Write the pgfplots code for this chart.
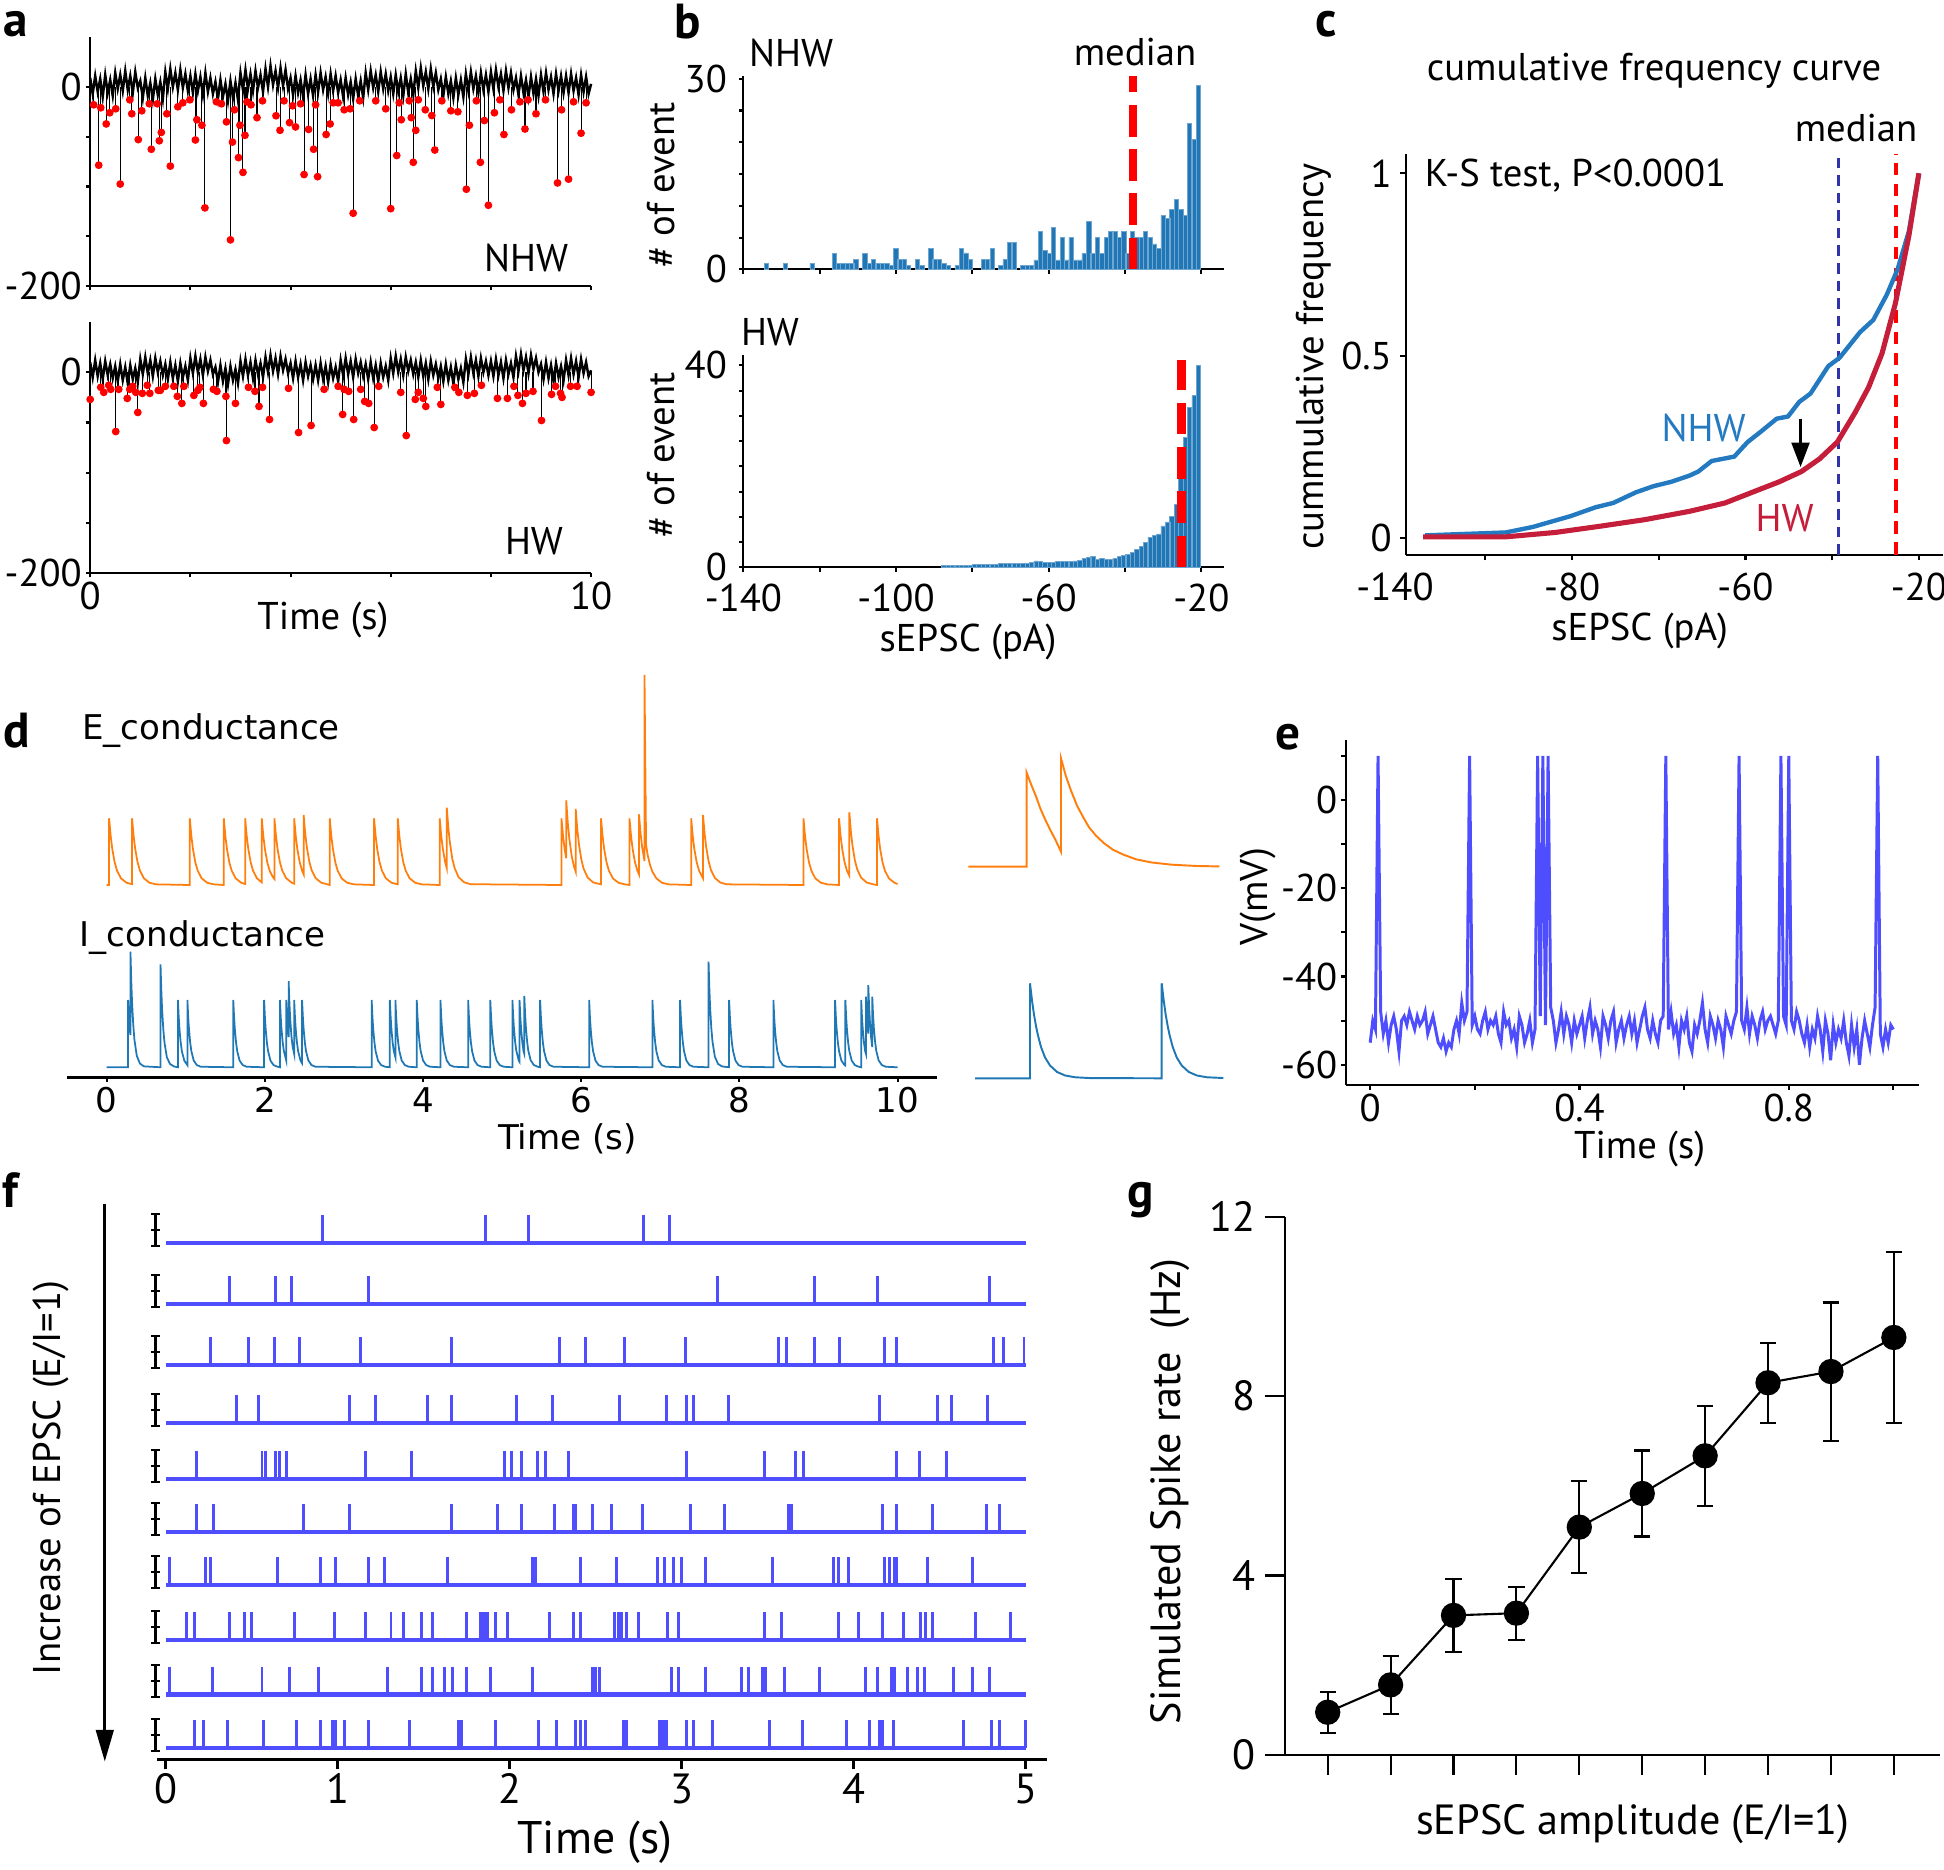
\documentclass[border=0pt]{standalone}
\usepackage{fontspec}
\setmainfont{PT Sans}
\newfontfamily\dvfont{DejaVu Sans}
\usepackage{pgfplots}
\usepackage{pgfplotstable}
\pgfplotsset{compat=1.18}
\usetikzlibrary{arrows.meta}

\definecolor{histblue}{RGB}{33,118,182}
\definecolor{nhwblue}{RGB}{36,122,192}
\definecolor{hwred}{RGB}{196,30,58}
\definecolor{egor}{RGB}{255,127,14}
\definecolor{igblue}{RGB}{31,119,180}
\definecolor{vblue}{RGB}{78,78,255}
\definecolor{medblue}{RGB}{50,50,170}

\newcommand\fs{\fontsize{11}{13}\selectfont}
\newcommand\fg{\fontsize{12}{14}\selectfont}
\newcommand\fd{\dvfont\fontsize{9.7}{11}\selectfont}
\newcommand\fl{\fontsize{14}{16}\selectfont\bfseries}

\pgfplotsset{
  base/.style={scale only axis, clip=false, anchor=south west,
    axis x line*=bottom, axis y line*=left,
    axis line style={line width=0.6pt, black},
    tick style={line width=0.6pt, black},
    tick align=outside, major tick length=1.2pt,
    tick label style={font=\fs, inner sep=1pt},
    /pgf/number format/assume math mode=true},
  bare/.style={scale only axis, clip=false, anchor=south west, hide axis},
  bars/.style={ybar, bar width=1.15, bar shift=0pt, fill=histblue,
    draw=histblue!65!white, line width=0.2pt},
  spk/.style={vblue, only marks, mark=|, mark size=3.97pt,
    mark options={line width=0.85pt}},
  row/.style={vblue, line width=1.2pt},
  scb/.style={black, line width=0.6pt, mark=-, mark size=1.2pt},
}

% event amplitudes (pA) of the two example traces
\pgfplotstableread{
t a
0.07 -18
0.17 -78.6
0.21 -21
0.32 -37.2
0.39 -26
0.51 -22
0.60 -97.5
0.79 -13
0.83 -27
0.96 -52.9
1.03 -24
1.18 -17
1.22 -62.6
1.34 -17
1.38 -54.1
1.42 -45.7
1.53 -27
1.60 -79.5
1.75 -20
1.85 -16
1.99 -13
2.10 -53.3
2.13 -33
2.23 -38.5
2.29 -121.4
2.52 -15
2.62 -17
2.72 -35.1
2.80 -153.5
2.84 -55.4
2.88 -23
2.96 -71
2.99 -38.5
3.05 -85.8
3.09 -48.6
3.13 -15
3.21 -18
3.33 -30.9
3.44 -14
3.71 -29
3.79 -43.6
3.87 -14
3.98 -35.9
4.04 -19
4.10 -40.2
4.20 -17
4.27 -88
4.36 -42.7
4.46 -62.6
4.50 -18
4.54 -90.1
4.71 -47.8
4.79 -37.2
4.85 -16
4.95 -16
5.07 -23
5.19 -22
5.25 -126.8
5.38 -14
5.70 -14
5.90 -22
6.00 -122.2
6.12 -68.9
6.17 -16
6.21 -33
6.37 -14
6.41 -30.9
6.45 -75.7
6.50 -43.6
6.55 -13
6.69 -23
6.82 -28.8
6.88 -63.4
7.02 -14
7.20 -24
7.34 -25
7.51 -102.7
7.57 -38.5
7.71 -14
7.79 -75.7
7.87 -33.8
7.95 -118.8
8.07 -26
8.18 -13
8.26 -47.8
8.41 -23
8.58 -15
8.68 -42.3
8.74 -13
8.90 -27
9.09 -13
9.33 -96.4
9.41 -23
9.55 -92.6
9.65 -15
9.80 -46.5
9.90 -16
}\evNHW

\pgfplotstableread{
t a
0.00 -27
0.21 -15
0.27 -20
0.37 -13
0.41 -17
0.51 -59
0.57 -17
0.74 -26
0.79 -17
0.85 -14
0.91 -20
0.95 -40
1.04 -21
1.14 -13
1.19 -21
1.36 -18
1.40 -18
1.50 -14
1.67 -14
1.74 -24
1.83 -31
1.87 -14
2.07 -23
2.15 -18
2.19 -15
2.26 -31
2.46 -17
2.53 -19
2.71 -24
2.72 -68
2.90 -31
3.16 -15
3.29 -19
3.37 -34
3.44 -15
3.58 -47
3.96 -16
4.16 -60
4.41 -53
4.67 -17
4.95 -14
5.04 -42
5.07 -17
5.16 -19
5.26 -47
5.40 -17
5.48 -29
5.56 -31
5.67 -55
5.76 -14
6.20 -20
6.31 -63
6.49 -27
6.55 -20
6.65 -26
6.70 -34
6.93 -15
7.00 -32
7.28 -15
7.36 -20
7.53 -23
7.67 -21
7.81 -13
8.13 -26
8.33 -26
8.46 -14
8.54 -23
8.63 -31
8.70 -21
8.84 -19
9.01 -48
9.21 -22
9.29 -14
9.39 -21
9.42 -25
9.59 -14
9.72 -14
10.0 -20
}\evHW

% amplitude histograms (bin centre, count)
\pgfplotstableread{
x n
-134.0 1
-129.0 1
-122.0 1
-116.2 2.5
-115.1 1
-113.9 1
-112.8 1
-111.6 1
-110.5 1.6
-108.2 2.5
-107.0 1
-105.9 1.6
-104.7 1
-103.6 1
-102.4 1
-101.3 0.6
-100.1 3.3
-99.0 1.6
-97.8 1.6
-96.7 0.6
-94.4 1.6
-93.2 0.6
-90.9 3.3
-89.8 1.6
-88.6 1.6
-87.5 1
-86.3 0.6
-84.0 0.6
-82.9 3.3
-81.7 2.6
-80.6 1.6
-77.1 1.6
-76.0 1.6
-74.8 3.3
-72.5 0.6
-71.4 1.6
-70.2 4.2
-69.1 4.2
-66.8 0.6
-65.6 0.6
-64.5 0.6
-63.3 1.5
-62.2 6
-61.0 3
-59.9 2.5
-58.7 6.6
-57.6 1.5
-56.4 5
-55.3 1.5
-54.1 5
-53.0 1.5
-51.8 1.5
-50.7 2.5
-49.5 7.6
-48.4 2.5
-47.2 5
-46.1 2.5
-44.9 5
-43.8 6
-42.6 6
-41.5 5
-40.3 6
-39.2 2.5
-38.0 6
-36.9 5
-35.7 5
-34.6 6
-33.4 5
-32.3 4
-31.1 3.3
-30.0 8.5
-28.8 8
-27.7 9.5
-26.5 11
-25.4 9.5
-24.2 8.5
-23.1 23
-21.9 20.5
-20.8 29
}\histNHW

\pgfplotstableread{
x n
-87.5 0.3
-86.3 0.3
-85.2 0.35
-84.0 0.4
-82.9 0.4
-81.7 0.4
-80.6 0.45
-79.4 0.5
-78.3 0.55
-77.1 0.6
-76.0 0.6
-74.8 0.6
-73.7 0.6
-72.5 0.7
-71.4 0.7
-70.2 0.7
-69.1 0.75
-67.9 0.75
-66.8 0.8
-65.6 0.8
-64.5 0.9
-63.3 1.25
-62.2 1.1
-61.0 1.0
-59.9 0.9
-58.7 0.9
-57.6 1.1
-56.4 1.1
-55.3 1.15
-54.1 1.1
-53.0 1.25
-51.8 1.4
-50.7 1.7
-49.5 1.9
-48.4 2.2
-47.2 1.5
-46.1 1.7
-44.9 1.5
-43.8 1.6
-42.6 1.8
-41.5 2.2
-40.3 2.3
-39.2 2.5
-38.0 3
-36.9 3.6
-35.7 4.2
-34.6 5
-33.4 6
-32.3 6.3
-31.1 6.6
-30.0 8.2
-28.8 9
-27.7 10
-26.5 12.5
-25.4 20
-24.2 25.7
-23.1 31.7
-21.9 34
-20.8 40
}\histHW

% cumulative frequency curves
\pgfplotstableread{
x f
-133.9 0.007
-115.3 0.015
-109.1 0.03
-100.3 0.06
-94.6 0.084
-90.5 0.096
-85.3 0.125
-81.2 0.142
-77.1 0.154
-72.9 0.171
-70.9 0.182
-67.8 0.211
-62.6 0.223
-59.5 0.263
-56.4 0.292
-52.8 0.327
-50.2 0.333
-47.6 0.373
-45.0 0.396
-40.9 0.471
-38.3 0.494
-33.6 0.564
-30.5 0.598
-27.4 0.667
-24.9 0.737
-22.3 0.841
-20.0 1.0
}\cumNHW

\pgfplotstableread{
x f
-134.4 0.003
-115.3 0.003
-103.9 0.015
-93.6 0.032
-83.3 0.05
-72.9 0.073
-64.7 0.096
-57.4 0.13
-52.2 0.154
-47.1 0.182
-42.9 0.217
-38.8 0.263
-34.7 0.344
-31.6 0.413
-28.5 0.506
-25.4 0.644
-22.3 0.829
-20.0 1.0
}\cumHW

\pgfplotstableread{
x r e
1 0.95 0.46
2 1.56 0.65
3 3.11 0.82
4 3.16 0.59
5 5.08 1.02
6 5.83 0.96
7 6.67 1.12
8 8.30 0.89
9 8.55 1.54
10 9.31 1.90
}\rate

\begin{document}
\begin{tikzpicture}
\useasboundingbox (0,0) rectangle (194.4mm,-187mm);

% ===================== a =====================
\begin{axis}[base, at={(9.02mm,-28.62mm)}, width=50.09mm, height=24.92mm,
  xmin=0, xmax=10, ymin=-200, ymax=50,
  xtick={0,2,4,6,8,10}, xticklabels={},
  ytick={-200,-150,-100,-50,0}, yticklabels={-200,,,,0}]
\addplot[black, line width=0.7pt] table[row sep=\\, header=false, x expr=\coordindex*0.05, y index=0] {
9\\-7\\11\\-5\\8\\-10\\12\\-6\\7\\-9\\14\\-2\\12\\-4\\16\\-3\\11\\-6\\15\\-1\\
6\\-11\\9\\-9\\4\\-13\\8\\-8\\5\\-12\\15\\-2\\18\\0\\14\\-3\\17\\-1\\13\\-4\\
11\\-6\\13\\-4\\10\\-8\\14\\-5\\9\\-7\\5\\-12\\7\\-10\\3\\-14\\6\\-11\\4\\-13\\
14\\-3\\17\\-2\\13\\-4\\16\\-1\\12\\-5\\18\\0\\21\\2\\16\\-1\\19\\1\\17\\-2\\
9\\-8\\11\\-6\\7\\-10\\12\\-7\\8\\-9\\12\\-5\\14\\-3\\10\\-7\\13\\-4\\11\\-6\\
7\\-10\\9\\-8\\5\\-12\\8\\-9\\6\\-11\\14\\-3\\16\\-1\\12\\-5\\15\\-2\\13\\-4\\
10\\-7\\12\\-5\\9\\-9\\13\\-6\\8\\-8\\16\\-1\\19\\1\\15\\-2\\18\\0\\14\\-3\\
8\\-9\\10\\-7\\6\\-11\\9\\-8\\7\\-10\\13\\-4\\15\\-2\\11\\-6\\14\\-3\\12\\-5\\
15\\-2\\17\\0\\13\\-4\\16\\-1\\14\\-3\\9\\-8\\11\\-6\\7\\-10\\10\\-7\\8\\-9\\
12\\-5\\14\\-3\\10\\-7\\13\\-4\\11\\-6\\11\\-6\\13\\-4\\9\\-8\\12\\-5\\10\\-7\\3\\
};
\addplot[ycomb, black, line width=0.3pt] table {\evNHW};
\addplot[only marks, mark=*, mark size=0.9pt, red] table {\evNHW};
\end{axis}

\begin{axis}[base, at={(9.02mm,-57.32mm)}, width=50.09mm, height=25.12mm,
  xmin=0, xmax=10, ymin=-200, ymax=50,
  xtick={0,2,4,6,8,10}, xticklabels={0,,,,,10},
  ytick={-200,-150,-100,-50,0}, yticklabels={-200,,,,0}]
\addplot[black, line width=0.7pt] table[row sep=\\, header=false, x expr=\coordindex*0.05, y index=0] {
10\\-5\\12\\-4\\9\\-7\\11\\-3\\8\\-6\\6\\-9\\8\\-8\\5\\-11\\7\\-7\\4\\-10\\
13\\-2\\15\\-1\\12\\-4\\14\\0\\11\\-3\\8\\-7\\10\\-6\\7\\-9\\9\\-5\\6\\-8\\
14\\-1\\16\\0\\13\\-3\\15\\1\\12\\-2\\5\\-10\\7\\-9\\4\\-12\\6\\-8\\3\\-11\\
11\\-4\\13\\-3\\10\\-6\\12\\-2\\9\\-5\\15\\0\\17\\1\\14\\-2\\16\\2\\13\\-1\\
9\\-6\\11\\-5\\8\\-8\\10\\-4\\7\\-7\\7\\-8\\9\\-7\\6\\-10\\8\\-6\\5\\-9\\
12\\-3\\14\\-2\\11\\-5\\13\\-1\\10\\-4\\8\\-7\\10\\-6\\7\\-9\\9\\-5\\6\\-8\\
14\\-1\\16\\0\\13\\-3\\15\\1\\12\\-2\\10\\-5\\12\\-4\\9\\-7\\11\\-3\\8\\-6\\
6\\-9\\8\\-8\\5\\-11\\7\\-7\\4\\-10\\13\\-2\\15\\-1\\12\\-4\\14\\0\\11\\-3\\
11\\-4\\13\\-3\\10\\-6\\12\\-2\\9\\-5\\16\\1\\18\\2\\15\\-1\\17\\3\\14\\0\\
8\\-7\\10\\-6\\7\\-9\\9\\-5\\6\\-8\\12\\-3\\14\\-2\\11\\-5\\13\\-1\\10\\-4\\2\\
};
\addplot[ycomb, black, line width=0.3pt] table {\evHW};
\addplot[only marks, mark=*, mark size=0.9pt, red] table {\evHW};
\end{axis}

% ===================== b =====================
\begin{axis}[base, at={(74.34mm,-26.94mm)}, width=48.08mm, height=19.36mm,
  xmin=-140, xmax=-14, ymin=0, ymax=30.46,
  tick label style={inner sep=3.3pt},
  xtick={-140,-120,...,-20}, xticklabels={},
  ytick={0,5,...,30}, yticklabels={0,,,,,,30}]
\addplot[bars] table {\histNHW};
\addplot[red, line width=2.3pt, dash pattern=on 9pt off 3.6pt] coordinates {(-37.9,0) (-37.9,30.4)};
\end{axis}

\begin{axis}[base, at={(74.34mm,-56.73mm)}, width=48.08mm, height=21.25mm,
  xmin=-140, xmax=-14, ymin=0, ymax=42.1,
  tick label style={inner sep=3.3pt},
  xtick={-140,-120,...,-20}, xticklabels={-140,,-100,,-60,,-20},
  ytick={0,5,...,40}, yticklabels={0,,,,,,,,40}]
\addplot[bars] table {\histHW};
\addplot[red, line width=2.3pt, dash pattern=on 9pt off 3.6pt] coordinates {(-25.2,0) (-25.2,41.1)};
\end{axis}

% ===================== c =====================
\begin{axis}[base, at={(140.61mm,-55.47mm)}, width=53.66mm, height=40.11mm,
  xmin=-138.3, xmax=-14.5, ymin=-0.046, ymax=1.054,
  major tick length=1.6pt,
  xticklabel style={inner sep=3.5pt}, yticklabel style={inner sep=2.3pt},
  xtick={-120,-100,...,-20}, xticklabels={,-80,,-60,,-20},
  ytick={0,0.5,1}, yticklabels={0,0.5,1}]
\addplot[medblue, line width=1pt, dash pattern=on 3pt off 2pt] coordinates {(-38.5,-0.046) (-38.5,1.046)};
\addplot[red, line width=1.1pt, dash pattern=on 3.5pt off 2.5pt] coordinates {(-25.2,-0.046) (-25.2,1.054)};
\addplot[nhwblue, line width=1.25pt] table {\cumNHW};
\addplot[hwred, line width=1.45pt] table {\cumHW};
\draw[black, line width=1pt, -{Triangle[width=5pt,length=7pt]}] (axis cs:-47.3,0.327) -- (axis cs:-47.3,0.194);
\end{axis}

% ===================== d =====================
\begin{axis}[bare, at={(6.72mm,-89.5mm)}, width=86.99mm, height=23.01mm,
  xmin=-0.5, xmax=10.5, ymin=-0.15, ymax=3.3]
\addplot[egor, line width=0.5pt] coordinates {
(0,0) (0.03,0) (0.03,1) (0.05,0.735) (0.07,0.54) (0.10,0.34) (0.13,0.215) (0.18,0.1) (0.25,0.034) (0.32,0.012)
(0.32,1) (0.34,0.735) (0.36,0.54) (0.39,0.34) (0.42,0.215) (0.47,0.1) (0.54,0.034) (0.62,0.01) (1.05,0)
(1.05,1) (1.07,0.735) (1.09,0.54) (1.12,0.34) (1.15,0.215) (1.20,0.1) (1.27,0.034) (1.35,0.01) (1.48,0)
(1.48,1) (1.50,0.735) (1.52,0.54) (1.55,0.34) (1.58,0.215) (1.63,0.1) (1.70,0.034) (1.75,0.015)
(1.75,1) (1.77,0.735) (1.79,0.54) (1.82,0.34) (1.85,0.215) (1.90,0.1) (1.96,0.04)
(1.96,1) (1.98,0.735) (2.00,0.54) (2.03,0.34) (2.06,0.215) (2.10,0.12) (2.12,0.09)
(2.12,1) (2.14,0.735) (2.16,0.54) (2.19,0.34) (2.22,0.215) (2.27,0.1) (2.34,0.034) (2.37,0.02)
(2.37,1) (2.39,0.735) (2.41,0.54) (2.44,0.34) (2.47,0.215) (2.49,0.16)
(2.49,1.05) (2.51,0.77) (2.53,0.57) (2.56,0.36) (2.59,0.226) (2.64,0.105) (2.71,0.036) (2.79,0.01) (2.82,0)
(2.82,1) (2.84,0.735) (2.86,0.54) (2.89,0.34) (2.92,0.215) (2.97,0.1) (3.04,0.034) (3.12,0.01) (3.38,0)
(3.38,1) (3.40,0.735) (3.42,0.54) (3.45,0.34) (3.48,0.215) (3.53,0.1) (3.60,0.034) (3.68,0.01)
(3.68,1) (3.70,0.735) (3.72,0.54) (3.75,0.34) (3.78,0.215) (3.83,0.1) (3.90,0.034) (3.98,0.01) (4.21,0)
(4.21,1) (4.23,0.735) (4.25,0.54) (4.28,0.34) (4.30,0.25)
(4.30,1.16) (4.32,0.85) (4.34,0.63) (4.37,0.39) (4.40,0.25) (4.45,0.116) (4.52,0.04) (4.60,0.012) (5.75,0)
(5.75,1) (5.77,0.735) (5.79,0.54) (5.81,0.4)
(5.81,1.27) (5.83,0.93) (5.85,0.69) (5.88,0.43) (5.91,0.27) (5.93,0.2)
(5.93,1.14) (5.95,0.84) (5.97,0.62) (6.00,0.39) (6.03,0.245) (6.08,0.114) (6.15,0.039) (6.25,0.01)
(6.25,1) (6.27,0.735) (6.29,0.54) (6.32,0.34) (6.35,0.215) (6.40,0.1) (6.47,0.034) (6.55,0.01) (6.61,0)
(6.61,1) (6.63,0.735) (6.65,0.54) (6.68,0.34) (6.71,0.215) (6.73,0.16)
(6.73,1.06) (6.75,0.78) (6.77,0.57) (6.80,0.36)
(6.80,3.15) (6.82,0.6) (6.84,0.45) (6.87,0.3) (6.90,0.2) (6.95,0.1) (7.02,0.034) (7.10,0.01) (7.39,0)
(7.39,1) (7.41,0.735) (7.43,0.54) (7.46,0.34) (7.49,0.215) (7.54,0.1)
(7.54,1.05) (7.56,0.77) (7.58,0.57) (7.61,0.36) (7.64,0.226) (7.69,0.105) (7.76,0.036) (7.84,0.01) (8.81,0)
(8.81,1) (8.83,0.735) (8.85,0.54) (8.88,0.34) (8.91,0.215) (8.96,0.1) (9.03,0.034) (9.11,0.01) (9.26,0)
(9.26,1) (9.28,0.735) (9.30,0.54) (9.33,0.34) (9.36,0.215) (9.39,0.14)
(9.39,1.09) (9.41,0.8) (9.43,0.59) (9.46,0.37) (9.49,0.234) (9.54,0.109) (9.61,0.037) (9.69,0.011) (9.74,0)
(9.74,1) (9.76,0.735) (9.78,0.54) (9.81,0.34) (9.84,0.215) (9.89,0.1) (9.96,0.034) (10.0,0.015)
};
\end{axis}

\begin{axis}[base, axis y line=none, at={(6.72mm,-107.73mm)}, width=86.99mm, height=13.11mm,
  xmin=-0.5, xmax=10.5, ymin=-0.149, ymax=1.8,
  axis line style={line width=0.8pt}, major tick length=1.2pt,
  xtick={0,2,4,6,8,10}, xticklabels={0,2,4,6,8,10},
  tick label style={font=\fd, inner sep=1.5pt}]
\addplot[igblue, line width=0.5pt] coordinates {
(0,0) (0.27,0) (0.27,1) (0.28,0.75) (0.29,0.565) (0.30,0.48)
(0.30,1.72) (0.31,1.29) (0.32,0.97) (0.335,0.64) (0.35,0.41) (0.38,0.17) (0.42,0.055) (0.47,0.014) (0.68,0)
(0.68,1.53) (0.69,1.15) (0.70,0.86) (0.715,0.57) (0.73,0.37) (0.76,0.15) (0.80,0.05) (0.85,0.012) (0.90,0)
(0.90,1) (0.91,0.75) (0.92,0.565) (0.935,0.37) (0.95,0.24) (0.98,0.1) (1.02,0.032)
(1.02,1) (1.03,0.75) (1.04,0.565) (1.055,0.37) (1.07,0.24) (1.10,0.1) (1.14,0.032) (1.19,0.008) (1.60,0)
(1.60,1) (1.61,0.75) (1.62,0.565) (1.635,0.37) (1.65,0.24) (1.68,0.1) (1.72,0.032) (1.77,0.008) (1.99,0)
(1.99,1) (2.00,0.75) (2.01,0.565) (2.025,0.37) (2.04,0.24) (2.07,0.1) (2.11,0.032) (2.16,0.008) (2.19,0)
(2.19,1) (2.20,0.75) (2.21,0.565) (2.225,0.37) (2.24,0.24) (2.27,0.1)
(2.27,1) (2.28,0.75) (2.29,0.565) (2.30,0.45)
(2.30,1.28) (2.31,0.96) (2.32,0.72) (2.335,0.47) (2.35,0.31) (2.37,0.2)
(2.37,1) (2.38,0.75) (2.39,0.565) (2.405,0.37) (2.42,0.24) (2.45,0.1) (2.47,0.06)
(2.47,1) (2.48,0.75) (2.49,0.565) (2.505,0.37) (2.52,0.24) (2.55,0.1) (2.59,0.032) (2.64,0.008) (3.35,0)
(3.35,1) (3.36,0.75) (3.37,0.565) (3.385,0.37) (3.40,0.24) (3.43,0.1) (3.47,0.032) (3.52,0.008) (3.58,0)
(3.58,1) (3.59,0.75) (3.60,0.565) (3.615,0.37) (3.63,0.24) (3.65,0.15)
(3.65,1) (3.66,0.75) (3.67,0.565) (3.685,0.37) (3.70,0.24) (3.73,0.1) (3.77,0.032) (3.82,0.008) (3.92,0)
(3.92,1) (3.93,0.75) (3.94,0.565) (3.955,0.37) (3.97,0.24) (4.00,0.1) (4.04,0.032) (4.09,0.008) (4.22,0)
(4.22,1) (4.23,0.75) (4.24,0.565) (4.255,0.37) (4.27,0.24) (4.30,0.1) (4.34,0.032) (4.39,0.008) (4.57,0)
(4.57,1) (4.58,0.75) (4.59,0.565) (4.605,0.37) (4.62,0.24) (4.65,0.1) (4.69,0.032) (4.74,0.008) (4.85,0)
(4.85,1) (4.86,0.75) (4.87,0.565) (4.885,0.37) (4.90,0.24) (4.93,0.1) (4.97,0.032) (5.02,0.008) (5.13,0)
(5.13,1) (5.14,0.75) (5.15,0.565) (5.165,0.37) (5.18,0.24) (5.21,0.1) (5.22,0.08)
(5.22,1) (5.23,0.75) (5.24,0.565) (5.255,0.37) (5.27,0.24) (5.28,0.2)
(5.28,1.06) (5.29,0.8) (5.30,0.6) (5.315,0.39) (5.33,0.25) (5.36,0.106) (5.40,0.034) (5.45,0.008) (5.48,0)
(5.48,1) (5.49,0.75) (5.50,0.565) (5.515,0.37) (5.53,0.24) (5.56,0.1) (5.60,0.032) (5.65,0.008) (6.10,0)
(6.10,1) (6.11,0.75) (6.12,0.565) (6.135,0.37) (6.15,0.24) (6.18,0.1) (6.22,0.032) (6.27,0.008) (6.90,0)
(6.90,1) (6.91,0.75) (6.92,0.565) (6.935,0.37) (6.95,0.24) (6.98,0.1) (7.02,0.032) (7.07,0.008) (7.25,0)
(7.25,1) (7.26,0.75) (7.27,0.565) (7.285,0.37) (7.30,0.24) (7.33,0.1) (7.37,0.032) (7.42,0.008) (7.61,0)
(7.61,1.57) (7.62,1.18) (7.63,0.89) (7.645,0.58) (7.66,0.38) (7.69,0.157) (7.73,0.05) (7.78,0.013) (7.87,0)
(7.87,1) (7.88,0.75) (7.89,0.565) (7.905,0.37) (7.92,0.24) (7.95,0.1) (7.99,0.032) (8.04,0.008) (8.43,0)
(8.43,1) (8.44,0.75) (8.45,0.565) (8.465,0.37) (8.48,0.24) (8.51,0.1) (8.55,0.032) (8.60,0.008) (9.21,0)
(9.21,1) (9.22,0.75) (9.23,0.565) (9.245,0.37) (9.26,0.24) (9.29,0.1) (9.33,0.032) (9.34,0.025)
(9.34,1) (9.35,0.75) (9.36,0.565) (9.375,0.37) (9.39,0.24) (9.42,0.1) (9.46,0.032) (9.51,0.008) (9.54,0)
(9.54,1) (9.55,0.75) (9.56,0.565) (9.575,0.37) (9.59,0.24) (9.60,0.2)
(9.60,1.05) (9.61,0.79) (9.62,0.6) (9.63,0.5)
(9.63,1.22) (9.64,0.92) (9.65,0.69) (9.665,0.45) (9.68,0.3)
(9.68,1.05) (9.69,0.79) (9.70,0.59) (9.715,0.39) (9.73,0.25) (9.76,0.105) (9.80,0.034) (9.85,0.008) (10.0,0)
};
\end{axis}

% insets of d
\begin{axis}[bare, at={(96.83mm,-87.61mm)}, width=25.1mm, height=12.69mm,
  xmin=0, xmax=251, ymin=-0.1, ymax=1.25]
\addplot[egor, line width=0.55pt] coordinates {
(0,0) (58.4,0) (58.4,1) (63,0.87) (68,0.74) (72,0.62) (77,0.5) (82,0.39) (87,0.29) (92.7,0.16)
(92.7,1.153) (97.7,0.96) (102.7,0.81) (108.7,0.65) (114.7,0.53) (120.7,0.42) (127.7,0.33)
(135.7,0.25) (144.7,0.18) (154.7,0.13) (167.7,0.079) (182.7,0.046) (202.7,0.022) (227.7,0.008) (251,0.003)
};
\end{axis}
\begin{axis}[bare, at={(97.5mm,-108.78mm)}, width=24.83mm, height=11.4mm,
  xmin=0, xmax=248.3, ymin=-0.1, ymax=1.1]
\addplot[igblue, line width=0.55pt] coordinates {
(0,0) (55,0) (55,1) (57,0.82) (59,0.67) (61,0.55) (63,0.45) (66,0.33) (70,0.22) (75,0.135)
(82,0.067) (90,0.03) (100,0.011) (115,0.0025) (186.7,0) (186.7,1) (188.7,0.82) (190.7,0.67)
(192.7,0.55) (194.7,0.45) (197.7,0.33) (201.7,0.22) (206.7,0.135) (213.7,0.067) (221.7,0.03)
(231.7,0.011) (248.3,0.003)
};
\end{axis}

% ===================== e =====================
\begin{axis}[base, at={(134.64mm,-108.5mm)}, width=57.25mm, height=34.5mm,
  xmin=-0.0455, xmax=1.0487, ymin=-64.6, ymax=13.6,
  major tick length=1.4pt,
  xtick={0,0.2,0.4,0.6,0.8,1}, xticklabels={0,,0.4,,0.8,},
  ytick={-60,-50,-40,-30,-20,-10,0,10}, yticklabels={-60,,-40,,-20,,0,}]
\addplot[vblue, line width=0.85pt] table[row sep=\\, header=false, x expr=\coordindex*0.005, y index=0] {
-55\\-50\\-52\\10\\-48\\-53\\-50\\-55\\-51\\-49\\-52\\-57\\-50\\-49\\-51\\-48\\-50\\-52\\-49\\-51\\
-50\\-48\\-53\\-51\\-49\\-52\\-55\\-56\\-54\\-57\\-55\\-56\\-52\\-50\\-53\\-46\\-50\\-48\\10\\-51\\
-49\\-52\\-53\\-50\\-48\\-52\\-50\\-51\\-49\\-53\\-55\\-48\\-51\\-50\\-54\\-52\\-56\\-49\\-51\\-55\\
-53\\-50\\-55\\-52\\10\\-49\\10\\-51\\10\\-47\\-50\\-55\\-52\\-48\\-53\\-49\\-51\\-55\\-50\\-53\\
-51\\-49\\-54\\-50\\-47\\-53\\-50\\-52\\-56\\-49\\-51\\-54\\-50\\-48\\-55\\-52\\-50\\-54\\-51\\-49\\
-53\\-50\\-55\\-52\\-49\\-47\\-52\\-54\\-50\\-53\\-55\\-50\\-49\\10\\-52\\-48\\-53\\-51\\-56\\-50\\
-52\\-49\\-55\\-57\\-51\\-53\\-50\\-46\\-52\\-55\\-49\\-51\\-54\\-50\\-52\\-56\\-49\\-51\\-53\\-50\\
-48\\10\\-50\\-52\\-47\\-53\\-49\\-51\\-54\\-50\\-48\\-52\\-50\\-49\\-51\\-53\\-50\\10\\-49\\-51\\
10\\-50\\-52\\-48\\-50\\-53\\-55\\-51\\-56\\-52\\-54\\-49\\-52\\-57\\-50\\-53\\-59\\-51\\-55\\-52\\
-54\\-50\\-55\\-58\\-51\\-56\\-52\\-60\\-54\\-50\\-53\\-56\\-51\\-47\\10\\-53\\-56\\-52\\-55\\-51\\-52\\
};
\end{axis}

% ===================== f =====================
\begin{axis}[base, axis y line=none, at={(15.69mm,-175.93mm)}, width=88.98mm, height=55.58mm,
  xmin=-0.051, xmax=5.122, ymin=0, ymax=555.8,
  axis line style={line width=0.8pt}, tick style={line width=0.8pt}, major tick length=1mm,
  xtick={0,1,2,3,4,5}, tick label style={font=\fg, inner sep=1pt}]
\addplot[row] coordinates {(0,516.5) (5,516.5)};
\addplot[row] coordinates {(0,455.4) (5,455.4)};
\addplot[row] coordinates {(0,394.2) (5,394.2)};
\addplot[row] coordinates {(0,336.2) (5,336.2)};
\addplot[row] coordinates {(0,280.4) (5,280.4)};
\addplot[row] coordinates {(0,227.2) (5,227.2)};
\addplot[row] coordinates {(0,174.1) (5,174.1)};
\addplot[row] coordinates {(0,119.2) (5,119.2)};
\addplot[row] coordinates {(0,64.8) (5,64.8)};
\addplot[row] coordinates {(0,11.2) (5,11.2)};
\addplot[spk] table[row sep=\\, header=false, x index=0, y expr=530.5] {0.91\\1.86\\2.11\\2.78\\2.93\\};
\addplot[spk] table[row sep=\\, header=false, x index=0, y expr=469.4] {0.37\\0.64\\0.73\\1.18\\3.21\\3.77\\4.14\\4.79\\};
\addplot[spk] table[row sep=\\, header=false, x index=0, y expr=408.2] {0.26\\0.48\\0.63\\0.78\\1.13\\1.66\\2.29\\2.44\\2.67\\3.02\\3.56\\3.61\\3.77\\3.92\\4.18\\4.25\\4.81\\4.87\\4.99\\};
\addplot[spk] table[row sep=\\, header=false, x index=0, y expr=350.2] {0.41\\0.54\\1.07\\1.22\\1.52\\1.66\\2.04\\2.25\\2.64\\2.91\\3.03\\3.07\\3.27\\4.15\\4.49\\4.57\\4.78\\};
\addplot[spk] table[row sep=\\, header=false, x index=0, y expr=294.4] {0.18\\0.56\\0.58\\0.64\\0.66\\0.70\\1.16\\1.43\\1.97\\2.01\\2.07\\2.16\\2.21\\2.34\\3.03\\3.48\\3.66\\3.71\\4.25\\4.38\\4.54\\};
\addplot[spk] table[row sep=\\, header=false, x index=0, y expr=241.2] {0.18\\0.28\\0.80\\1.07\\1.66\\1.93\\2.07\\2.26\\2.37\\2.38\\2.48\\2.59\\2.77\\3.05\\3.25\\3.62\\3.64\\4.17\\4.25\\4.46\\4.77\\4.85\\};
\addplot[spk] table[row sep=\\, header=false, x index=0, y expr=188.1] {0.02\\0.23\\0.26\\0.65\\0.90\\0.99\\1.18\\1.27\\1.64\\2.13\\2.15\\2.41\\2.62\\2.86\\2.90\\2.95\\3.00\\3.14\\3.53\\3.88\\3.91\\3.97\\4.18\\4.21\\4.24\\4.25\\4.43\\4.69\\};
\addplot[spk] table[row sep=\\, header=false, x index=0, y expr=133.2] {0.12\\0.17\\0.37\\0.46\\0.50\\0.75\\0.98\\1.16\\1.31\\1.38\\1.49\\1.55\\1.75\\1.83\\1.84\\1.86\\1.87\\1.92\\1.99\\2.23\\2.37\\2.41\\2.61\\2.63\\2.65\\2.68\\2.75\\2.92\\2.98\\3.48\\3.58\\3.91\\4.03\\4.17\\4.29\\4.39\\4.42\\4.46\\4.71\\4.91\\};
\addplot[spk] table[row sep=\\, header=false, x index=0, y expr=78.8] {0.02\\0.27\\0.56\\0.72\\0.89\\1.29\\1.49\\1.55\\1.62\\1.67\\1.75\\1.89\\2.13\\2.48\\2.50\\2.52\\2.94\\2.98\\3.14\\3.35\\3.39\\3.47\\3.49\\3.60\\3.80\\4.07\\4.14\\4.22\\4.24\\4.31\\4.37\\4.41\\4.58\\4.69\\4.79\\};
\addplot[spk] table[row sep=\\, header=false, x index=0, y expr=25.2] {0.17\\0.22\\0.36\\0.57\\0.76\\0.90\\0.97\\0.99\\1.04\\1.18\\1.42\\1.70\\1.72\\1.92\\2.17\\2.27\\2.38\\2.41\\2.44\\2.66\\2.68\\2.87\\2.88\\2.90\\2.91\\3.03\\3.07\\3.18\\3.51\\3.70\\3.96\\4.09\\4.15\\4.17\\4.23\\4.64\\4.80\\4.85\\5.00\\};
\addplot[scb] coordinates {(-0.059,513) (-0.059,529) (-0.059,545)};
\addplot[scb] coordinates {(-0.059,452) (-0.059,468) (-0.059,484)};
\addplot[scb] coordinates {(-0.059,391) (-0.059,407) (-0.059,423)};
\addplot[scb] coordinates {(-0.059,333) (-0.059,349) (-0.059,365)};
\addplot[scb] coordinates {(-0.059,277) (-0.059,293) (-0.059,309)};
\addplot[scb] coordinates {(-0.059,224) (-0.059,240) (-0.059,256)};
\addplot[scb] coordinates {(-0.059,171) (-0.059,187) (-0.059,203)};
\addplot[scb] coordinates {(-0.059,116) (-0.059,132) (-0.059,148)};
\addplot[scb] coordinates {(-0.059,62) (-0.059,78) (-0.059,94)};
\addplot[scb] coordinates {(-0.059,8) (-0.059,24) (-0.059,40)};
\end{axis}

% ===================== g =====================
\begin{axis}[base, at={(128.46mm,-175.48mm)}, width=65.5mm, height=53.79mm,
  xmin=0.315, xmax=10.727, ymin=0, ymax=12,
  major tick length=2mm, xtick={1,...,10}, xticklabels={},
  ytick={0,4,8,12}, tick label style={font=\fg, inner sep=2.5pt}]
\addplot[black, line width=0.6pt, mark=*, mark size=3.3pt,
  error bars/.cd, y dir=both, y explicit,
  error bar style={line width=0.6pt},
  error mark options={rotate=90, mark size=2.3pt, line width=0.6pt}]
  table[x=x, y=r, y error=e] {\rate};
\end{axis}

% ===================== text =====================
\begin{scope}[x=0.1mm, y=0.1mm, lbl/.style={inner sep=0pt, font=\fs}]
\draw[black, line width=0.8pt, -{Triangle[width=5pt,length=9pt]}] (104.8,-1203.5) -- (104.8,-1761.5);

\node[lbl, font=\fl] at (16,-24) {a};
\node[lbl] at (526,-258) {NHW};
\node[lbl] at (534,-541) {HW};
\node[lbl] at (323,-620) {Time (s)};

\node[lbl, font=\fl] at (688,-22) {b};
\node[lbl] at (791,-52.5) {NHW};
\node[lbl] at (1135,-52) {median};
\node[lbl] at (770,-332.5) {HW};
\node[lbl, rotate=90] at (661.5,-185) {\# of event};
\node[lbl, rotate=90] at (661.5,-455) {\# of event};
\node[lbl] at (968,-642) {sEPSC (pA)};

\node[lbl, font=\fl] at (1326,-24) {c};
\node[lbl] at (1654,-71) {cumulative frequency curve};
\node[lbl] at (1856,-128) {median};
\node[lbl] at (1575.5,-176) {K-S test, P<0.0001};
\node[lbl, rotate=90] at (1314,-356.7) {cummulative frequency};
\node[lbl, text=nhwblue] at (1703.6,-428) {NHW};
\node[lbl, text=hwred] at (1784.5,-518) {HW};
\node[lbl] at (1639.6,-631.3) {sEPSC (pA)};
\node[lbl] at (1395,-587) {-140};

\node[lbl, font=\fl] at (17,-731) {d};
\node[lbl, font=\fd, anchor=west] at (81.7,-731) {E\_conductance};
\node[lbl, font=\fd, anchor=west] at (79,-938) {I\_conductance};
\node[lbl, font=\fd] at (567.5,-1139) {Time (s)};

\node[lbl, font=\fl] at (1288,-737) {e};
\node[lbl, rotate=90] at (1258,-896.7) {V(mV)};
\node[lbl] at (1639.6,-1149) {Time (s)};

\node[lbl, font=\fl] at (10,-1190) {f};
\node[lbl, rotate=90] at (50.7,-1478) {Increase of EPSC (E/I=1)};
\node[lbl, font=\fontsize{13}{15}\selectfont] at (595,-1842) {Time (s)};

\node[lbl, font=\fl] at (1141,-1200) {g};
\node[lbl, rotate=90, font=\fg] at (1170,-1491.4) {Simulated Spike rate\ \ (Hz)};
\node[lbl, font=\fg] at (1632.8,-1824) {sEPSC amplitude (E/I=1)};
\end{scope}
\end{tikzpicture}
\end{document}
